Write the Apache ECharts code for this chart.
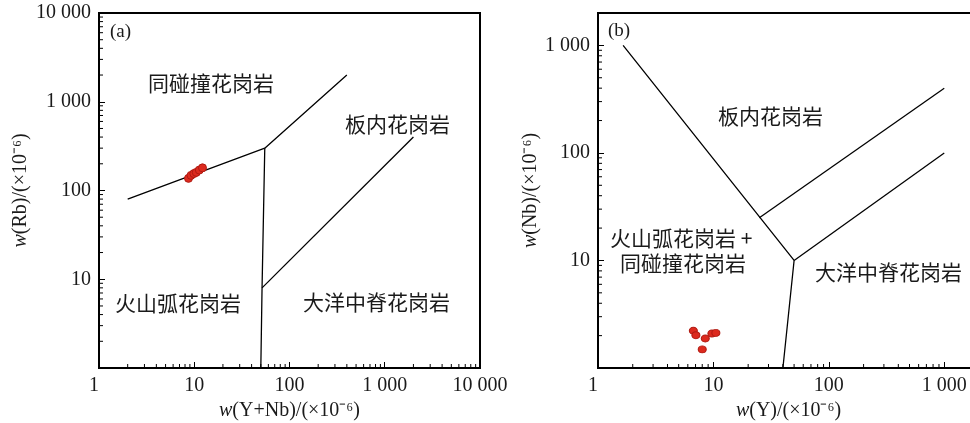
<!DOCTYPE html>
<html>
<head>
<meta charset="utf-8">
<script src="https://cdn.jsdelivr.net/npm/echarts@6/dist/echarts.min.js"></script>
<style>
html,body{margin:0;padding:0;background:#fff;}
#c{width:970px;height:423px;}
</style>
</head>
<body>
<div id="c"></div>
<script>
// ---- Data ----
// Panel (a): Rb vs (Y+Nb)
const samplesA = [[8.7,137],[9.25,148],[9.9,155],[10.5,160],[11.3,170],[12.2,180]];
const boundA1 = [[2,80],[55,300],[400,2000]];
const boundA2 = [[55,300],[51.5,8],[50,1]];
const boundA3 = [[51.5,8],[2000,400]];
// Panel (b): Nb vs Y
const samplesB = [[6.7,2.22],[7.05,2.02],[8.5,1.88],[9.7,2.09],[10.5,2.12],[8.0,1.49]];
const boundB1 = [[1.65,1000],[50,10],[40,1]];
const boundB2 = [[25,25],[1000,400]];
const boundB3 = [[50,10],[1000,100]];
// Axis ranges
const axisA = {xmin:1, xmax:10000, ymin:1, ymax:10000};
const axisB = {xmin:1, xmax:2000, ymin:1, ymax:2000};
const decades = [1,10,100,1000];
const minorMult = [2,3,4,5,6,7,8,9];

function minorTicks(maxV){
  const out=[];
  decades.forEach(d=>minorMult.forEach(m=>{const v=d*m; if(v<maxV) out.push(v);}));
  return out;
}
function fmt(v){
  const r = Math.round(v);
  return String(r).replace(/\B(?=(\d{3})+(?!\d))/g,' ');
}

const chart = echarts.init(document.getElementById('c'), null, {renderer:'canvas'});
const serif = '"Liberation Serif","Times New Roman",serif';
const cjk = '"Noto Sans CJK SC",sans-serif';
const labelStyle = {fontFamily:serif, fontSize:20, color:'#1a1a1a'};
const nameStyle = {fontFamily:serif, fontSize:20, color:'#1a1a1a',
  rich:{i:{fontFamily:serif, fontSize:20, fontStyle:'italic', color:'#1a1a1a'}}};

function xAxisDef(gi, ax, showMax){
  return {
    type:'log', logBase:10, gridIndex:gi, min:ax.xmin, max:ax.xmax,
    axisLine:{show:true, onZero:false, lineStyle:{color:'#000', width:2}},
    axisTick:{show:true, inside:true, length:6, lineStyle:{color:'#000', width:1}},
    axisLabel:Object.assign({margin:8, formatter:fmt, showMaxLabel:showMax, alignMinLabel:'right'}, labelStyle),
    splitLine:{show:false},
    nameLocation:'middle', nameGap:31,
    nameTextStyle:nameStyle
  };
}
function yAxisDef(gi, ax, showMax){
  return {
    type:'log', logBase:10, gridIndex:gi, min:ax.ymin, max:ax.ymax,
    axisLine:{show:true, onZero:false, lineStyle:{color:'#000', width:2}},
    axisTick:{show:true, inside:true, length:6, lineStyle:{color:'#000', width:1}},
    axisLabel:Object.assign({margin:8, formatter:fmt, showMinLabel:false, showMaxLabel:showMax}, labelStyle),
    splitLine:{show:false},
    nameLocation:'middle', nameRotate:90,
    nameTextStyle:nameStyle
  };
}

function minorTickSeries(xi, yi, ax, dir){
  const vals = minorTicks(dir==='x'?ax.xmax:ax.ymax);
  return {
    type:'custom', xAxisIndex:xi, yAxisIndex:yi, silent:true, clip:false,
    data: vals.map(v=>[v]),
    encode:{x:0},
    renderItem:function(params, api){
      const v = api.value(0);
      let p, shape;
      if(dir==='x'){
        p = api.coord([v, ax.ymin]);
        shape = {x1:p[0], y1:p[1], x2:p[0], y2:p[1]-4};
      } else {
        p = api.coord([ax.xmin, v]);
        shape = {x1:p[0], y1:p[1], x2:p[0]+4, y2:p[1]};
      }
      return {type:'line', shape:shape, style:{stroke:'#000', lineWidth:1}};
    }
  };
}

function lineSeries(xi, yi, data){
  return {type:'line', xAxisIndex:xi, yAxisIndex:yi, data:data, symbol:'none',
    lineStyle:{color:'#000', width:1.3}, silent:true, animation:false, z:3};
}

function txt(x, y, text, font){
  return {type:'text', x:x, y:y, silent:true,
    style:{text:text, font:font, fill:'#1a1a1a', verticalAlign:'middle', align:'left'}};
}
const cjkFont = '21px ' + cjk;
const tagFont = '19px ' + serif;

const option = {
  animation:false,
  backgroundColor:'#fff',
  grid:[
    {left:99, top:13, width:381, height:355, outerBoundsMode:'none', containLabel:false, show:true, borderColor:'#000', borderWidth:2, backgroundColor:'transparent'},
    {left:598, top:13, width:381, height:355, outerBoundsMode:'none', containLabel:false, show:true, borderColor:'#000', borderWidth:2, backgroundColor:'transparent'}
  ],
  xAxis:[
    Object.assign(xAxisDef(0, axisA, true), {name:'{i|w}(Y+Nb)/(×10⁻⁶)'}),
    Object.assign(xAxisDef(1, axisB, false), {name:'{i|w}(Y)/(×10⁻⁶)'})
  ],
  yAxis:[
    Object.assign(yAxisDef(0, axisA, true), {name:'{i|w}(Rb)/(×10⁻⁶)', nameGap:68}),
    Object.assign(yAxisDef(1, axisB, false), {name:'{i|w}(Nb)/(×10⁻⁶)', nameGap:57})
  ],
  series:[
    lineSeries(0,0,boundA1), lineSeries(0,0,boundA2), lineSeries(0,0,boundA3),
    lineSeries(1,1,boundB1), lineSeries(1,1,boundB2), lineSeries(1,1,boundB3),
    minorTickSeries(0,0,axisA,'x'), minorTickSeries(0,0,axisA,'y'),
    minorTickSeries(1,1,axisB,'x'), minorTickSeries(1,1,axisB,'y'),
    {type:'scatter', xAxisIndex:0, yAxisIndex:0, data:samplesA, symbol:'circle', symbolSize:8,
      itemStyle:{color:'#dc2a1e', borderColor:'#b01a12', borderWidth:1, opacity:1}, z:5},
    {type:'scatter', xAxisIndex:1, yAxisIndex:1, data:samplesB, symbol:'circle', symbolSize:[8,7],
      itemStyle:{color:'#dc2a1e', borderColor:'#b01a12', borderWidth:1, opacity:1}, z:5}
  ],
  graphic:[
    txt(110, 32, '(a)', tagFont),
    txt(148, 83, '同碰撞花岗岩', cjkFont),
    txt(345, 124, '板内花岗岩', cjkFont),
    txt(115, 303, '火山弧花岗岩', cjkFont),
    txt(303, 302, '大洋中脊花岗岩', cjkFont),
    txt(608, 31, '(b)', tagFont),
    txt(718, 116, '板内花岗岩', cjkFont),
    txt(610, 238, '火山弧花岗岩 +', cjkFont),
    txt(620, 263, '同碰撞花岗岩', cjkFont),
    txt(815, 272, '大洋中脊花岗岩', cjkFont)
  ]
};
chart.setOption(option);
</script>
</body>
</html>
